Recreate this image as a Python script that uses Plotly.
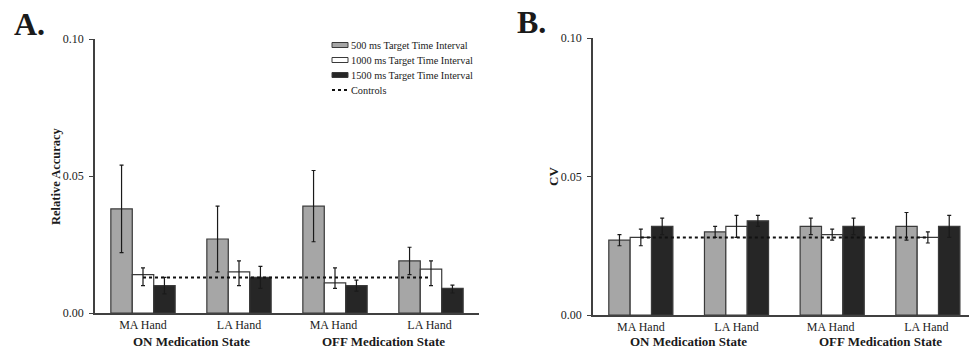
import plotly.graph_objects as go

categories = ["MA Hand", "LA Hand", "MA Hand ", "LA Hand "]
group_labels = ["ON Medication State", "OFF Medication State"]
series_names = ["500 ms Target Time Interval", "1000 ms Target Time Interval", "1500 ms Target Time Interval"]
controls_name = "Controls"

# Panel A: Relative Accuracy
a_500 = [0.038, 0.027, 0.039, 0.019]
a_500_up = [0.016, 0.012, 0.013, 0.005]
a_500_dn = [0.016, 0.012, 0.013, 0.005]
a_1000 = [0.014, 0.015, 0.011, 0.016]
a_1000_up = [0.0025, 0.004, 0.0055, 0.003]
a_1000_dn = [0.004, 0.005, 0.002, 0.006]
a_1500 = [0.010, 0.013, 0.010, 0.009]
a_1500_up = [0.003, 0.004, 0.002, 0.0012]
a_1500_dn = [0.003, 0.004, 0.002, 0.0017]
a_controls = [0.013, 0.013, 0.013, 0.013]

# Panel B: CV
b_500 = [0.027, 0.030, 0.032, 0.032]
b_500_err = [0.002, 0.002, 0.003, 0.005]
b_1000 = [0.028, 0.032, 0.029, 0.028]
b_1000_err = [0.003, 0.004, 0.002, 0.002]
b_1500 = [0.032, 0.034, 0.032, 0.032]
b_1500_err = [0.003, 0.002, 0.003, 0.004]
b_controls = [0.028, 0.028, 0.028, 0.028]

colors = ["#a6a6a6", "#ffffff", "#262626"]
outline = "#3a3a3a"
FONT = "Liberation Serif"
W, H = 969, 354

fig = go.Figure()

def add_bars(vals, ups, dns, xa, ya):
    for i, (v, u, d) in enumerate(zip(vals, ups, dns)):
        fig.add_trace(go.Bar(
            x=categories, y=v, name=series_names[i], xaxis=xa, yaxis=ya,
            marker=dict(color=colors[i], line=dict(color=outline, width=1.2)),
            error_y=dict(type="data", array=u, arrayminus=d, symmetric=False,
                         color="#1a1a1a", thickness=1.2, width=2),
            showlegend=False,
        ))

add_bars([a_500, a_1000, a_1500], [a_500_up, a_1000_up, a_1500_up],
         [a_500_dn, a_1000_dn, a_1500_dn], "x", "y")
fig.add_trace(go.Scatter(x=categories, y=a_controls, mode="lines", name=controls_name,
                         line=dict(color="#111111", width=2, dash="dot"),
                         xaxis="x", yaxis="y", showlegend=False))
add_bars([b_500, b_1000, b_1500], [b_500_err, b_1000_err, b_1500_err],
         [b_500_err, b_1000_err, b_1500_err], "x2", "y2")
fig.add_trace(go.Scatter(x=categories, y=b_controls, mode="lines", name=controls_name,
                         line=dict(color="#111111", width=2, dash="dot"),
                         xaxis="x2", yaxis="y2", showlegend=False))

def px_x(p):
    return p / W

def px_y(p):
    return (H - p) / H

xcommon = dict(type="category", showline=True, linecolor="#404040", linewidth=1.5,
               ticks="", showgrid=False, zeroline=False, automargin=False,
               tickfont=dict(family=FONT, size=12, color="#222"), ticklen=0)
ycommon = dict(range=[0, 0.10], tickvals=[0, 0.05, 0.10], ticktext=["0.00", "0.05", "0.10"],
               showline=True, linecolor="#404040", linewidth=1.5, ticks="outside",
               ticklen=4, tickcolor="#404040", showgrid=False, zeroline=False,
               automargin=False, ticklabelstandoff=3,
               tickfont=dict(family=FONT, size=12, color="#222"))

fig.update_layout(
    width=W, height=H, margin=dict(l=0, r=0, t=0, b=0),
    paper_bgcolor="white", plot_bgcolor="white",
    barmode="group", bargap=0.33, bargroupgap=0,
    xaxis=dict(domain=[px_x(95), px_x(479)], range=[-0.5, 3.5], anchor="y", **xcommon),
    yaxis=dict(domain=[px_y(313), px_y(39)], anchor="x", **ycommon),
    xaxis2=dict(domain=[px_x(593), 1.0], range=[-0.5, 3.43], anchor="y2", **xcommon),
    yaxis2=dict(domain=[px_y(315), px_y(38)], anchor="x2", **ycommon),
    showlegend=False,
    font=dict(family=FONT),
)

def note(text, x, y, size, angle=0, xref="paper", xanchor="center"):
    return dict(text=text, x=x, y=y, xref=xref, yref="paper", xanchor=xanchor, yanchor="middle",
                showarrow=False, textangle=angle, font=dict(family=FONT, size=size, color="#1a1a1a"))

ann = []
ann.append(note("<b>A.</b>", px_x(29), px_y(24), 32))
ann.append(note("<b>B.</b>", px_x(531), px_y(22), 32))
ann.append(note("<b>Relative Accuracy</b>", px_x(56), px_y(176), 12.5, angle=-90))
ann.append(note("<b>CV</b>", px_x(553), px_y(177), 13, angle=-90))
for xa in ["x", "x2"]:
    for gi, g in enumerate(group_labels):
        ann.append(note("<b>" + g + "</b>", 0.5 + 2 * gi, px_y(341), 13, xref=xa))

# legend built from shapes + text (compact row spacing as in reference)
shapes = []
leg_rows = [45, 60, 75, 90]
for i, name in enumerate(series_names):
    yc = leg_rows[i]
    shapes.append(dict(type="rect", xref="paper", yref="paper",
                       x0=px_x(332), x1=px_x(348), y0=px_y(yc + 2.5), y1=px_y(yc - 2.5),
                       fillcolor=colors[i], line=dict(color=outline, width=1)))
    ann.append(note(name, px_x(349), px_y(yc), 10.3, xanchor="left"))
shapes.append(dict(type="line", xref="paper", yref="paper",
                   x0=px_x(332), x1=px_x(348), y0=px_y(leg_rows[3]), y1=px_y(leg_rows[3]),
                   line=dict(color="#111111", width=2, dash="dot")))
ann.append(note(controls_name, px_x(349), px_y(leg_rows[3]), 10.3, xanchor="left"))

fig.update_layout(annotations=ann, shapes=shapes)

fig.write_html("out.html")
